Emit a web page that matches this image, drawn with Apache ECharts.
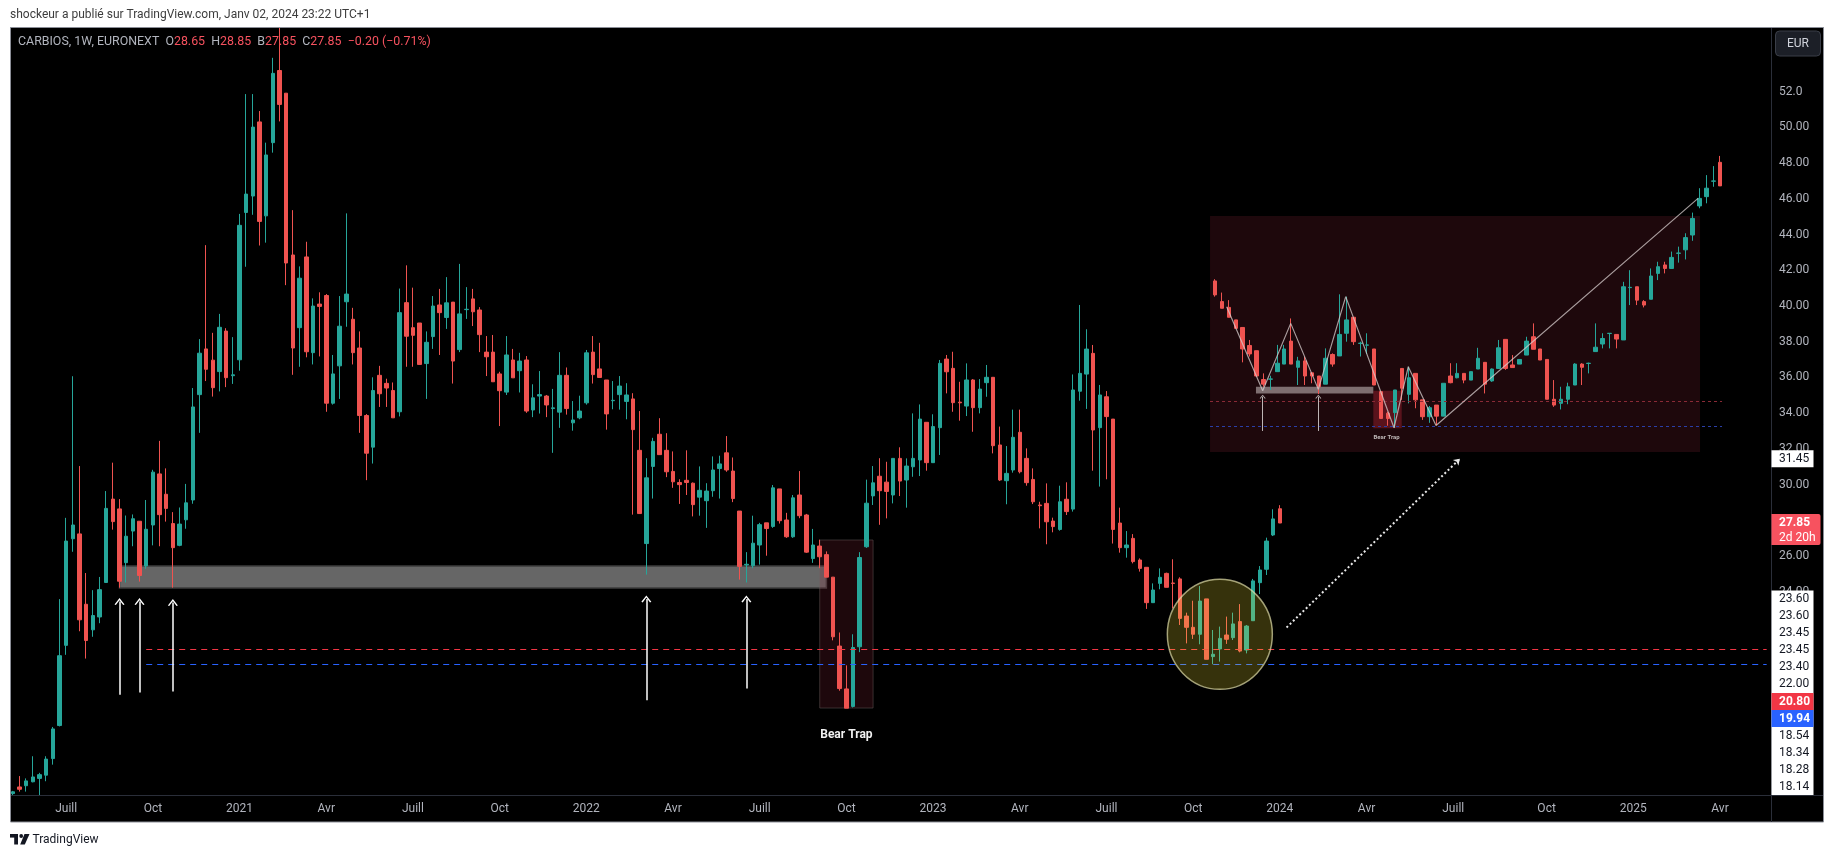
<!DOCTYPE html>
<html><head><meta charset="utf-8">
<script src="https://cdn.jsdelivr.net/npm/echarts@6/dist/echarts.min.js"></script>
<style>html,body{margin:0;padding:0;background:#fff}#c{width:1835px;height:858px}</style>
</head><body><div id="c"></div>
<script>
// ---------- axis ----------
const firstWeekUTC = [2020, 4, 11];   // Monday 11 May 2020
const weekCount = 264;
const yTicks = [24,26,28,30,32,34,36,38,40,42,44,46,48,50,52];
const monthNames = {4:'Avr', 7:'Juill', 10:'Oct'};

// ---------- weekly candles (CARBIOS, 1W) ----------
const open = [12.70,13.07,13.14,13.36,13.55,13.73,14.66,16.51,21.00,26.97,27.24,23.30,21.87,22.59,24.52,29.19,28.64,25.63,27.40,27.95,
25.44,27.74,30.60,29.46,27.82,26.60,28.03,29.14,35.04,37.60,36.97,36.33,38.60,36.10,36.99,45.24,46.16,50.31,45.05,49.15,
53.19,51.92,42.86,38.79,42.75,37.39,40.11,40.59,34.56,36.65,40.24,39.26,37.65,33.87,32.10,36.12,35.67,35.27,34.08,40.19,
38.79,39.05,36.78,38.29,40.06,39.36,40.22,37.56,39.80,40.40,39.78,37.42,37.42,36.20,35.18,36.98,36.38,36.98,34.18,34.96,
34.96,34.26,34.06,36.12,33.46,33.74,34.58,37.42,36.48,35.86,34.70,35.04,34.66,34.80,31.92,26.70,31.02,32.82,31.92,30.74,
30.12,30.24,30.08,29.30,29.10,29.66,30.90,31.78,30.76,28.52,25.50,25.46,26.62,27.86,27.66,29.76,28.02,27.08,29.42,28.30,
25.86,26.56,26.08,24.82,20.96,18.56,17.58,20.92,26.52,29.37,30.47,30.14,29.42,31.47,30.26,31.00,31.38,33.49,31.23,33.19,
37.03,36.51,34.62,34.40,35.86,34.31,35.71,36.01,32.22,30.22,30.82,32.93,31.47,30.29,28.86,28.95,27.96,27.49,29.18,28.63,
35.23,36.19,37.35,33.19,34.92,33.67,27.85,26.47,26.99,25.78,25.37,23.39,24.47,25.03,24.49,24.72,22.64,22.01,21.62,23.60,
20.37,20.80,21.58,21.43,22.33,20.74,22.38,24.51,25.26,27.18,28.65];
const high = [12.85,13.68,13.55,14.79,13.86,14.79,16.43,23.59,28.14,36.07,31.04,25.05,24.09,24.83,29.64,31.23,29.19,28.27,28.33,27.95,
29.14,30.83,32.45,30.91,28.46,28.72,30.04,35.41,38.15,43.41,38.50,39.56,38.76,38.26,45.16,51.87,51.87,50.92,49.15,53.90,
56.20,51.92,45.37,42.22,43.60,40.43,40.77,40.67,37.26,40.56,45.19,39.90,38.58,33.95,36.01,36.65,35.93,35.72,40.98,42.28,
41.03,39.05,38.58,40.56,40.96,41.62,40.22,42.36,41.06,40.96,39.94,38.32,38.38,36.32,38.32,37.60,37.38,37.20,35.62,36.36,
35.02,35.36,37.42,36.56,34.68,34.98,37.54,38.32,37.94,35.86,35.80,36.08,35.68,35.12,34.12,31.48,32.62,33.72,32.88,31.86,
30.30,31.92,30.12,31.02,30.08,31.58,31.62,32.72,31.52,28.52,26.22,28.26,27.86,27.86,29.98,29.76,28.42,29.42,30.76,28.36,
27.52,26.92,26.26,24.82,21.72,19.88,21.62,26.22,30.28,31.04,31.48,31.28,31.47,32.09,31.47,33.99,34.49,33.49,33.94,36.98,
37.26,37.44,35.76,36.79,35.91,35.91,36.70,36.01,33.25,32.16,34.20,34.20,32.03,30.91,29.04,30.07,28.15,29.94,30.13,36.17,
40.06,38.70,37.82,35.58,35.24,33.67,28.71,27.40,27.23,25.87,25.37,24.47,25.31,25.07,25.82,24.81,22.83,23.50,24.32,23.60,
21.86,22.05,22.61,22.83,23.31,22.14,24.72,25.44,27.03,28.62,28.85];
const low = [12.60,12.81,12.81,13.33,12.62,13.39,14.32,16.46,20.47,26.24,21.79,20.26,21.48,22.24,24.52,27.48,24.23,24.52,26.55,24.57,
25.28,26.60,26.55,27.93,24.23,26.55,27.53,28.93,32.90,35.80,34.93,35.22,35.46,35.64,36.38,42.20,45.11,43.39,43.55,48.59,
50.34,41.17,36.15,36.60,37.13,36.73,37.18,34.08,34.48,34.80,38.84,36.73,32.90,30.25,31.18,34.35,34.35,33.74,33.82,36.60,
36.60,36.73,34.80,37.60,37.26,38.72,35.66,37.42,39.28,38.88,37.42,36.08,35.76,33.28,35.02,35.98,35.16,34.02,33.78,33.98,
33.78,31.78,33.18,33.92,33.02,33.66,34.48,35.66,36.00,33.08,34.22,34.20,33.66,28.32,28.38,24.96,29.22,31.68,30.42,29.82,
28.92,29.42,28.22,28.26,27.58,29.32,29.22,30.72,29.02,24.68,24.52,25.32,25.52,26.02,27.58,27.82,27.02,27.02,28.12,26.18,
25.62,25.32,24.82,21.28,18.46,17.48,17.52,20.62,26.46,28.86,27.75,28.11,28.95,29.36,28.71,30.44,30.48,30.78,31.23,31.66,
35.11,34.08,33.58,33.84,32.96,33.99,34.92,31.75,30.20,28.90,30.67,30.63,29.94,28.91,27.55,26.66,27.33,27.42,28.30,28.49,
34.70,34.24,30.78,29.89,30.30,26.70,26.19,25.91,25.59,25.13,23.04,23.39,24.14,24.25,23.07,22.14,21.11,21.36,21.06,20.22,
19.94,20.09,21.08,21.30,20.61,20.55,22.38,23.87,24.94,27.12,27.85];
const close = [12.80,12.94,13.41,13.63,13.76,14.63,16.32,20.42,26.84,27.74,22.43,21.27,22.67,24.12,28.67,27.93,24.59,27.11,28.09,24.91,
27.50,30.70,28.32,28.67,26.47,27.79,28.98,34.35,37.36,36.46,35.43,38.81,35.99,36.15,44.52,46.27,50.02,44.74,48.46,53.03,
51.29,42.41,37.65,41.56,37.44,40.00,39.98,34.56,36.20,38.87,40.67,37.39,33.87,31.76,35.27,35.09,35.41,33.74,39.63,38.31,
38.36,36.73,37.97,40.00,39.63,40.18,36.92,39.56,39.82,39.68,38.40,37.16,35.76,35.26,37.26,35.98,36.92,34.12,34.86,35.04,
34.46,34.30,36.12,34.26,33.62,34.12,37.38,36.16,36.00,33.96,34.72,35.52,35.02,33.08,28.38,30.38,32.42,31.68,30.72,30.16,
30.00,30.12,28.88,29.68,29.64,30.82,31.16,30.82,29.22,25.42,25.54,26.72,27.76,27.54,29.82,27.98,27.08,29.26,28.26,26.22,
26.62,25.96,24.82,21.48,18.58,17.48,20.88,25.92,28.96,30.10,29.66,29.62,31.47,30.20,31.04,31.47,33.67,31.23,33.25,36.79,
36.32,34.59,34.58,35.86,34.31,35.35,36.01,32.18,30.26,30.63,32.65,30.72,30.11,29.04,28.82,27.92,27.65,29.04,28.49,35.30,
36.23,37.59,33.06,35.02,33.81,27.49,26.47,26.62,25.69,25.31,23.39,24.10,24.81,24.25,24.47,22.51,22.01,21.62,23.48,20.22,
20.50,21.39,21.34,22.20,20.68,22.08,24.61,25.22,26.84,28.08,27.85];

// ---------- drawings on the main chart ----------
const supportZone = {from: 16, to: 122, low: 24.21, high: 25.44};
const bearTrapBox = {from: 121, to: 129, low: 17.49, high: 26.90, labelAt: [125, 15.98]};
const redLevel = 20.80, blueLevel = 19.94, levelStart = 20;
const upArrows = [
  {i: 16, low: 18.23, high: 23.45}, {i: 19, low: 18.36, high: 23.45}, {i: 24, low: 18.42, high: 23.40},
  {i: 95, low: 17.93, high: 23.60}, {i: 110, low: 18.59, high: 23.60}
];
const circleMark = [181, 21.62];
const projection = {from: [191, 22.00], to: [217, 31.45]};

// ---------- inset picture (pattern) ----------
const insetOpen = [24.93,24.22,24.02,23.59,23.33,22.71,22.53,21.54,21.55,21.81,22.07,22.86,21.96,22.18,21.77,21.66,21.38,22.40,22.35,23.13,
23.68,22.78,22.72,22.59,21.12,20.38,20.40,21.92,21.03,21.75,20.84,20.26,20.66,20.28,21.66,21.60,21.75,21.52,21.90,22.13,
21.49,21.92,22.92,22.04,22.07,22.38,23.01,22.59,22.23,20.86,20.72,20.86,21.35,22.07,22.09,22.50,22.76,23.12,23.09,22.90,
24.70,24.73,24.22,24.30,25.19,25.48,25.36,25.88,26.00,26.51,27.51,27.83,28.36,29.01];
const insetHigh = [24.99,24.53,24.27,23.59,23.33,22.90,22.53,21.75,21.67,22.73,22.73,23.64,22.32,22.32,21.77,21.66,22.61,22.44,24.47,24.39,
23.68,22.84,23.13,22.59,21.12,20.43,21.18,21.92,21.98,21.75,20.84,20.63,20.66,21.41,22.10,22.10,21.75,21.81,22.63,22.13,
21.92,22.90,22.92,22.38,22.23,23.01,23.47,22.59,22.23,21.52,21.29,21.43,22.10,22.10,22.12,23.47,23.13,23.13,23.09,24.90,
25.30,24.73,24.27,25.36,25.59,25.59,25.94,26.11,26.57,27.28,28.12,28.57,28.88,29.23];
const insetLow = [24.39,23.99,23.68,23.30,22.13,22.33,21.64,21.29,21.18,21.81,22.07,22.07,21.35,21.35,21.41,21.04,21.38,21.98,22.35,22.84,
22.73,22.33,22.42,21.35,20.20,19.95,19.88,20.84,20.72,20.55,20.15,20.05,19.97,20.28,21.41,21.58,21.41,21.52,21.90,21.06,
21.46,21.92,21.87,21.95,22.07,22.38,22.58,22.21,20.86,20.60,20.51,20.69,21.35,21.35,21.75,22.50,22.61,22.61,22.61,22.90,
24.10,24.10,24.02,24.30,24.96,25.19,25.36,25.56,25.67,26.31,27.43,27.60,28.17,28.20];
const insetClose = [24.45,23.99,23.68,23.30,22.59,22.42,21.66,21.38,21.56,22.10,22.59,22.07,22.18,21.66,21.66,21.29,22.27,22.07,23.09,23.59,
22.84,22.79,22.73,21.35,20.20,20.20,21.18,21.24,21.60,20.84,20.26,20.57,20.28,21.41,21.43,21.75,21.52,21.81,22.27,21.38,
21.90,22.63,21.92,21.95,22.23,22.86,22.58,22.21,20.86,20.66,20.86,21.29,22.07,21.96,22.10,22.65,22.95,23.13,22.93,24.73,
24.71,24.27,24.10,25.10,25.42,25.36,25.74,25.89,26.42,27.08,27.77,28.12,28.37,28.20];
const insetFrame = {from: -0.72, to: 70.09, low: 19.046, high: 27.164};
const insetZone = {from: 5.92, to: 22.88, low: 21.06, high: 21.29};
const insetTrap = {from: 22.88, to: 26.98, low: 19.86, high: 21.15, labelAt: [24.8, 19.55]};
const insetArrows = [{k: 6.89, low: 19.77, high: 20.95}, {k: 14.93, low: 19.77, high: 20.95}];
const insetZigzag = [[1.69,24.04],[6.89,21.15],[10.94,23.47],[14.93,21.20],[18.89,24.39],[25.87,19.88],[27.93,21.98],[31.94,19.96],[69.8,27.77]];
const insetLevelEnd = 73.27;

// ---------- price tags on the right scale ----------
const stackedTags = ['23.60','23.60','23.45','23.45','23.40','22.00','20.80','19.94','18.54','18.34','18.28','18.14'];
const lastPrice = 27.85, countdown = '2d 20h', targetTag = 31.45;

// ======================================================
const cats = [];
for (let k = 0; k < weekCount; k++) {
  const d = new Date(Date.UTC(firstWeekUTC[0], firstWeekUTC[1], firstWeekUTC[2]) + k * 604800000);
  cats.push(d.toISOString().slice(0, 10));
}
const FONT = 'Roboto, "Liberation Sans", sans-serif';
const UP = '#26a69a', DOWN = '#ef5350';
const chevron = 'path://M0,9 L6,0 L12,9 L10.4,9.8 L6,3 L1.6,9.8 Z';

const chart = echarts.init(document.getElementById('c'), null, {renderer: 'canvas'});
const mainData = open.map((o, i) => [o, close[i], low[i], high[i]]);
const insetData = insetOpen.map((o, k) => [k, o, insetClose[k], insetLow[k], insetHigh[k]]);

const option = {
  animation: false,
  backgroundColor: '#ffffff',
  grid: [
    {left: 9.5, right: 65, top: 28, bottom: 63, outerBoundsMode: 'none', containLabel: false},
    {left: 1205, right: 105, top: 140, bottom: 406, outerBoundsMode: 'none', containLabel: false}
  ],
  xAxis: [
    {type: 'category', gridIndex: 0, data: cats, boundaryGap: true,
     axisLine: {show: false}, axisTick: {show: false}, splitLine: {show: false},
     axisLabel: {color: '#b2b5be', fontSize: 12, fontFamily: FONT, margin: 8,
       interval: (idx, val) => { const m = +val.slice(5, 7), d = +val.slice(8, 10); return d <= 7 && (m - 1) % 3 === 0; },
       formatter: val => { const m = +val.slice(5, 7); return m === 1 ? val.slice(0, 4) : monthNames[m]; }}},
    {type: 'value', gridIndex: 1, min: -1.445, max: 74.42, show: false, splitLine: {show: false}}
  ],
  yAxis: [
    {type: 'value', gridIndex: 0, position: 'right', min: 12.62, max: 55.57, scale: true,
     axisLine: {show: false}, axisTick: {show: false}, splitLine: {show: false},
     axisLabel: {color: '#b2b5be', fontSize: 12, fontFamily: FONT, margin: 9, customValues: yTicks,
       formatter: v => (Math.abs(v - 52) < 1e-6 ? '52.0' : v.toFixed(2))}},
    {type: 'value', gridIndex: 1, min: 19.046, max: 29.778, show: false, splitLine: {show: false}}
  ],
  series: [
    {type: 'candlestick', xAxisIndex: 0, yAxisIndex: 0, z: 2, barWidth: 4, data: mainData, silent: true, clip: true,
     itemStyle: {color: UP, color0: DOWN, borderColor: UP, borderColor0: DOWN, borderWidth: 1}},
    // horizontal levels
    {type: 'line', xAxisIndex: 0, yAxisIndex: 0, z: 3, data: [], silent: true,
     markLine: {silent: true, symbol: ['none', 'none'], label: {show: false}, animation: false,
       data: [
         [{coord: [levelStart, redLevel], lineStyle: {color: '#f23645', width: 1, type: [6, 5]}}, {coord: [weekCount - 1, redLevel]}],
         [{coord: [levelStart, blueLevel], lineStyle: {color: '#2962ff', width: 1, type: [6, 5]}}, {coord: [weekCount - 1, blueLevel]}]
       ]}},
    // zone + bear trap
    {type: 'line', xAxisIndex: 0, yAxisIndex: 0, z: 4, data: [], silent: true,
     markArea: {silent: true, label: {show: false}, animation: false,
       data: [
         [{coord: [supportZone.from, supportZone.high], itemStyle: {color: 'rgba(255,255,255,0.40)', borderColor: '#3c3c3c', borderWidth: 1.5}},
          {coord: [supportZone.to, supportZone.low]}],
         [{coord: [bearTrapBox.from, bearTrapBox.high], itemStyle: {color: 'rgba(150,40,60,0.20)', borderColor: 'rgba(110,100,100,0.45)', borderWidth: 1}},
          {coord: [bearTrapBox.to, bearTrapBox.low]}]
       ]}},
    // circle
    {type: 'scatter', xAxisIndex: 0, yAxisIndex: 0, z: 5, silent: true, data: [circleMark],
     symbol: 'circle', symbolSize: [105, 110],
     itemStyle: {color: 'rgba(255,235,59,0.21)', borderColor: 'rgba(225,222,170,0.7)', borderWidth: 1.5, opacity: 1}},
    // arrows
    {type: 'line', xAxisIndex: 0, yAxisIndex: 0, z: 6, data: [], silent: true,
     markLine: {silent: true, label: {show: false}, animation: false, symbol: ['none', 'none'],
       data: upArrows.map(a => [
         {coord: [a.i, a.low], symbol: 'none', lineStyle: {color: '#ffffff', width: 1.5, type: 'solid'}},
         {coord: [a.i, a.high], symbol: chevron, symbolSize: [10, 7]}
       ]).concat([[
         {coord: projection.from, symbol: 'none', lineStyle: {color: '#e8e8e8', width: 2, type: [2, 2.5]}},
         {coord: projection.to, symbol: 'arrow', symbolSize: [6, 6]}
       ]])}},
    // ---------- inset ----------
    {type: 'candlestick', xAxisIndex: 1, yAxisIndex: 1, z: 2, barWidth: 4, silent: true,
     dimensions: ['k', 'open', 'close', 'lowest', 'highest'],
     encode: {x: 'k', y: ['open', 'close', 'lowest', 'highest']},
     data: insetData,
     itemStyle: {color: UP, color0: DOWN, borderColor: UP, borderColor0: DOWN, borderWidth: 1}},
    {type: 'line', xAxisIndex: 1, yAxisIndex: 1, z: 3, data: [], silent: true,
     markArea: {silent: true, label: {show: false}, animation: false,
       data: [[{coord: [insetFrame.from, insetFrame.high], itemStyle: {color: 'rgba(150,40,60,0.20)'}},
               {coord: [insetFrame.to, insetFrame.low]}]]}},
    {type: 'line', xAxisIndex: 1, yAxisIndex: 1, z: 4, data: [], silent: true,
     markArea: {silent: true, label: {show: false}, animation: false,
       data: [
         [{coord: [insetZone.from, insetZone.high], itemStyle: {color: 'rgba(205,195,195,0.55)'}}, {coord: [insetZone.to, insetZone.low]}],
         [{coord: [insetTrap.from, insetTrap.high], itemStyle: {color: 'rgba(200,40,60,0.35)'}}, {coord: [insetTrap.to, insetTrap.low]}]
       ]},
     markLine: {silent: true, label: {show: false}, animation: false, symbol: ['none', 'none'],
       data: [
         [{coord: [insetFrame.from, redLevel], lineStyle: {color: '#8a2a36', width: 1, type: [3, 3]}}, {coord: [insetLevelEnd, redLevel]}],
         [{coord: [insetFrame.from, blueLevel], lineStyle: {color: '#2b3fa8', width: 1, type: [3, 3]}}, {coord: [insetLevelEnd, blueLevel]}]
       ].concat(insetArrows.map(a => [
         {coord: [a.k, a.low], symbol: 'none', lineStyle: {color: '#bdb5b5', width: 1, type: 'solid'}},
         {coord: [a.k, a.high], symbol: chevron, symbolSize: [6, 4]}
       ]))}},
    {type: 'line', xAxisIndex: 1, yAxisIndex: 1, z: 5, silent: true, data: insetZigzag,
     symbol: 'none', lineStyle: {color: 'rgba(215,205,205,0.75)', width: 1.2}}
  ]
};
chart.setOption(option);

// ---------- overlays (frame, legend, price tags) ----------
const yPx = v => chart.convertToPixel({yAxisIndex: 0}, v);
const g = [];
g.push({type: 'rect', z: -10, silent: true, shape: {x: 10.5, y: 27.5, width: 1813, height: 794.5},
        style: {fill: '#000000', stroke: '#8b8e97', lineWidth: 1}});
// white page strip above the chart frame (keeps clipped wicks inside the pane)
g.push({type: 'rect', z: 40, silent: true, shape: {x: 0, y: 0, width: 1835, height: 27}, style: {fill: '#ffffff'}});
g.push({type: 'line', z: 41, silent: true, shape: {x1: 10.5, y1: 27.5, x2: 1823.5, y2: 27.5}, style: {stroke: '#8b8e97', lineWidth: 1}});
g.push({type: 'line', z: 50, silent: true, shape: {x1: 1771.5, y1: 28, x2: 1771.5, y2: 822}, style: {stroke: '#2a2e39', lineWidth: 1}});
g.push({type: 'line', z: 50, silent: true, shape: {x1: 11, y1: 795.5, x2: 1823, y2: 795.5}, style: {stroke: '#2a2e39', lineWidth: 1}});
g.push({type: 'text', z: 50, silent: true, x: 10, y: 15,
        style: {text: 'shockeur a publié sur TradingView.com, Janv 02, 2024 23:22 UTC+1', fill: '#3d3d3d', font: '12px ' + FONT, verticalAlign: 'middle'}});
const LF = '12.4px ' + FONT;
g.push({type: 'text', z: 60, silent: true, x: 18, y: 42,
        style: {text: '{n|CARBIOS, 1W, EURONEXT}  {l|O}{v|28.65}  {l|H}{v|28.85}  {l|B}{v|27.85}  {l|C}{v|27.85}  {v|\u22120.20 (\u22120.71%)}',
                verticalAlign: 'middle', font: LF,
                rich: {n: {fill: '#b2b5be', font: LF}, l: {fill: '#b2b5be', font: LF}, v: {fill: '#f7525f', font: LF}}}});
// EUR button
g.push({type: 'rect', z: 60, silent: true, shape: {x: 1775.5, y: 31, width: 45, height: 25, r: 4}, style: {fill: '#1c1f27', stroke: '#3a3e48', lineWidth: 1}});
g.push({type: 'text', z: 61, silent: true, x: 1798, y: 43.5, style: {text: 'EUR', fill: '#d1d4dc', font: '12px ' + FONT, align: 'center', verticalAlign: 'middle'}});
// target tag
const yT = yPx(targetTag);
g.push({type: 'rect', z: 60, silent: true, shape: {x: 1771.5, y: yT - 8.5, width: 42, height: 17}, style: {fill: '#ffffff'}});
g.push({type: 'text', z: 61, silent: true, x: 1779, y: yT, style: {text: targetTag.toFixed(2), fill: '#131722', font: '12px ' + FONT, verticalAlign: 'middle'}});
// last price tag
const yL = yPx(lastPrice);
g.push({type: 'rect', z: 60, silent: true, shape: {x: 1771.5, y: yL - 9, width: 49, height: 31, r: [0, 2, 2, 0]}, style: {fill: '#f7525f'}});
g.push({type: 'text', z: 61, silent: true, x: 1779, y: yL, style: {text: lastPrice.toFixed(2), fill: '#ffffff', font: 'bold 12px ' + FONT, verticalAlign: 'middle'}});
g.push({type: 'text', z: 61, silent: true, x: 1779, y: yL + 15, style: {text: countdown, fill: '#ffffff', font: '12px ' + FONT, verticalAlign: 'middle'}});
// stacked tags
const yS = yPx(parseFloat(stackedTags[0]));
const step = 17.1;
g.push({type: 'rect', z: 60, silent: true, shape: {x: 1771.5, y: yS - 8.5, width: 42, height: 795 - (yS - 8.5)}, style: {fill: '#ffffff'}});
stackedTags.forEach((t, k) => {
  const cy = yS + k * step;
  let fill = '#131722', bold = '';
  if (t === redLevel.toFixed(2) || t === blueLevel.toFixed(2)) {
    g.push({type: 'rect', z: 61, silent: true, shape: {x: 1771.5, y: cy - 8.5, width: 42, height: 17},
            style: {fill: t === redLevel.toFixed(2) ? '#f23645' : '#2962ff'}});
    fill = '#ffffff'; bold = 'bold ';
  }
  g.push({type: 'text', z: 62, silent: true, x: 1779, y: cy, style: {text: t, fill: fill, font: bold + '12px ' + FONT, verticalAlign: 'middle'}});
});
// Bear Trap labels
const bt = chart.convertToPixel({xAxisIndex: 0, yAxisIndex: 0}, bearTrapBox.labelAt);
g.push({type: 'text', z: 60, silent: true, x: bt[0], y: bt[1], style: {text: 'Bear Trap', fill: '#f0f0f0', font: 'bold 12px ' + FONT, align: 'center', verticalAlign: 'middle'}});
const ibt = chart.convertToPixel({xAxisIndex: 1, yAxisIndex: 1}, insetTrap.labelAt);
g.push({type: 'text', z: 60, silent: true, x: ibt[0], y: ibt[1], style: {text: 'Bear Trap', fill: '#bdb7b7', font: 'bold 6px ' + FONT, align: 'center', verticalAlign: 'middle'}});
// TradingView footer
g.push({type: 'rect', z: 60, silent: true, shape: {x: 10, y: 834, width: 8, height: 3.6}, style: {fill: '#131722'}});
g.push({type: 'rect', z: 60, silent: true, shape: {x: 14.2, y: 834, width: 3.8, height: 10.5}, style: {fill: '#131722'}});
g.push({type: 'circle', z: 60, silent: true, shape: {cx: 21.2, cy: 836, r: 1.9}, style: {fill: '#131722'}});
g.push({type: 'polygon', z: 60, silent: true, shape: {points: [[24.5, 834], [29.5, 834], [24.8, 844.5], [20.2, 844.5]]}, style: {fill: '#131722'}});
g.push({type: 'text', z: 60, silent: true, x: 32.5, y: 839.5, style: {text: 'TradingView', fill: '#131722', font: '12px ' + FONT, verticalAlign: 'middle'}});

chart.setOption({graphic: {elements: g}});
</script>
</body></html>
